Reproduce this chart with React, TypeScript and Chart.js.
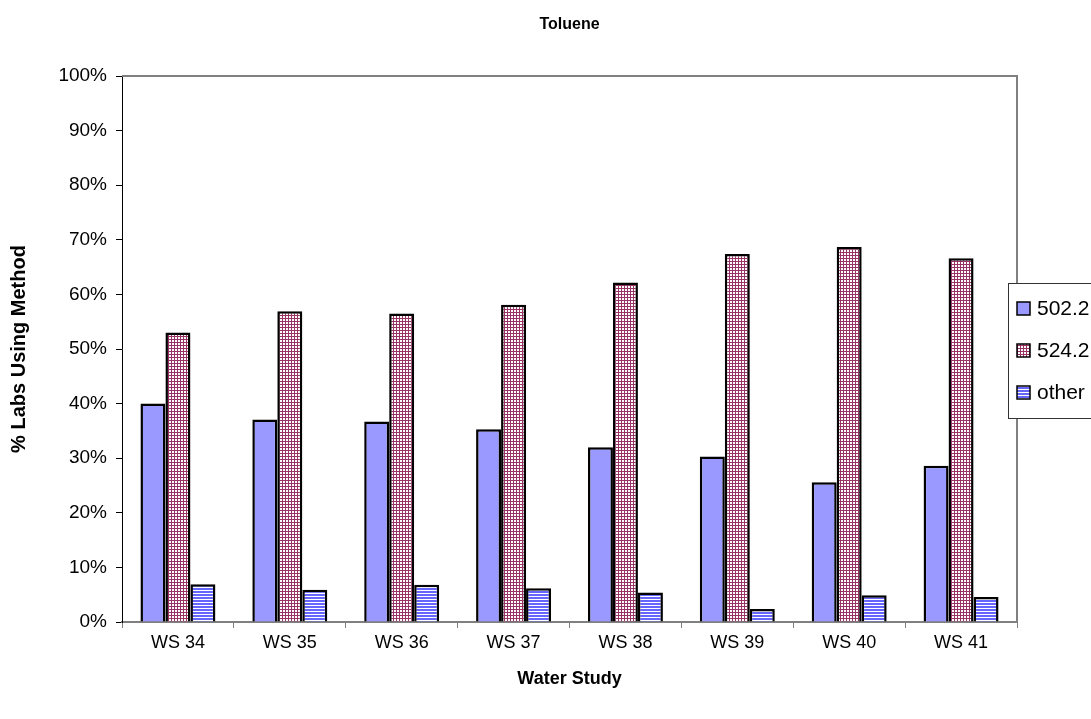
import React, { useEffect, useRef } from "react";
import { Chart, registerables } from "chart.js";

Chart.register(...registerables);

const chartTitle = "Toluene";
const xAxisTitle = "Water Study";
const yAxisTitle = "% Labs Using Method";
const categories = ["WS 34", "WS 35", "WS 36", "WS 37", "WS 38", "WS 39", "WS 40", "WS 41"];
const seriesNames = ["502.2", "524.2", "other"];
const values502 = [40.0, 37.1, 36.7, 35.3, 32.0, 30.3, 25.6, 28.6];
const values524 = [53.0, 56.9, 56.5, 58.1, 62.2, 67.4, 68.7, 66.6];
const valuesOther = [6.9, 5.9, 6.8, 6.2, 5.4, 2.4, 4.9, 4.6];
const yTickLabels = ["0%", "10%", "20%", "30%", "40%", "50%", "60%", "70%", "80%", "90%", "100%"];

const FONT = "Arial, 'Liberation Sans', sans-serif";

function makeCheckPattern(): CanvasPattern | string {
  const c = document.createElement("canvas");
  c.width = 3;
  c.height = 3;
  const g = c.getContext("2d");
  if (!g) return "#b36b8f";
  g.fillStyle = "#ffffff";
  g.fillRect(0, 0, 3, 3);
  g.fillStyle = "#993366";
  g.fillRect(0, 0, 3, 1);
  g.fillRect(0, 0, 1, 3);
  const p = g.createPattern(c, "repeat");
  return p || "#b36b8f";
}

function makeStripePattern(): CanvasPattern | string {
  const c = document.createElement("canvas");
  c.width = 3;
  c.height = 3;
  const g = c.getContext("2d");
  if (!g) return "#8080ff";
  g.fillStyle = "#6666ff";
  g.fillRect(0, 0, 3, 3);
  g.fillStyle = "#ffffff";
  g.fillRect(0, 2, 3, 1);
  const p = g.createPattern(c, "repeat");
  return p || "#8080ff";
}

export default function App() {
  const ref = useRef<HTMLCanvasElement | null>(null);

  useEffect(() => {
    if (!ref.current) return;
    const checkFill = makeCheckPattern();
    const stripeFill = makeStripePattern();
    const fills: any[] = ["#9999ff", checkFill, stripeFill];

    const plotFrame = {
      id: "plotFrame",
      afterDatasetsDraw(chart: any) {
        const { ctx, chartArea } = chart;
        ctx.save();
        ctx.strokeStyle = "#808080";
        ctx.lineWidth = 2;
        ctx.beginPath();
        ctx.moveTo(chartArea.left, chartArea.top);
        ctx.lineTo(chartArea.right, chartArea.top);
        ctx.lineTo(chartArea.right, chartArea.bottom);
        ctx.stroke();
        ctx.restore();
      },
    };

    const titleAndLegend = {
      id: "titleAndLegend",
      afterDraw(chart: any) {
        const { ctx, chartArea } = chart;
        ctx.save();
        // title
        ctx.fillStyle = "#000";
        ctx.font = `bold 16px ${FONT}`;
        ctx.textAlign = "center";
        ctx.textBaseline = "middle";
        ctx.fillText(chartTitle, (chartArea.left + chartArea.right) / 2, 25);
        // legend
        const midY = (chartArea.top + chartArea.bottom) / 2 + 1;
        const boxLeft = chartArea.right - 9;
        const boxTop = midY - 67;
        ctx.fillStyle = "#ffffff";
        ctx.fillRect(boxLeft, boxTop, 200, 135);
        ctx.strokeStyle = "#333";
        ctx.lineWidth = 1;
        ctx.strokeRect(boxLeft + 0.5, boxTop + 0.5, 200, 135);
        ctx.font = `21px ${FONT}`;
        ctx.textAlign = "left";
        seriesNames.forEach((name, i) => {
          const cy = midY - 42 + i * 42;
          const mx = boxLeft + 9;
          ctx.fillStyle = fills[i];
          ctx.fillRect(mx, cy - 6, 13, 13);
          ctx.strokeStyle = "#000";
          ctx.lineWidth = 1.5;
          ctx.strokeRect(mx, cy - 6, 13, 13);
          ctx.fillStyle = "#000";
          ctx.fillText(name, boxLeft + 29, cy + 1);
        });
        ctx.restore();
      },
    };

    const chart = new Chart(ref.current, {
      type: "bar",
      data: {
        labels: categories,
        datasets: [
          { label: seriesNames[0], data: values502, backgroundColor: fills[0] },
          { label: seriesNames[1], data: values524, backgroundColor: fills[1] },
          { label: seriesNames[2], data: valuesOther, backgroundColor: fills[2] },
        ].map((d) => ({
          ...d,
          borderColor: "#000",
          borderWidth: 2.5,
          categoryPercentage: 0.67,
          barPercentage: 1.0,
        })),
      },
      options: {
        animation: false,
        responsive: true,
        maintainAspectRatio: false,
        layout: { padding: { top: 76, right: 74, left: 0, bottom: 0 } },
        plugins: {
          legend: { display: false },
          title: { display: false },
          tooltip: { enabled: false },
        },
        scales: {
          x: {
            offset: true,
            grid: {
              display: true,
              drawOnChartArea: false,
              offset: true,
              tickLength: 6,
              color: "#808080",
            },
            border: { display: true, color: "#808080", width: 2 },
            ticks: {
              color: "#000",
              font: { family: FONT, size: 18 },
              padding: 4,
              maxRotation: 0,
            },
            title: {
              display: true,
              text: xAxisTitle,
              color: "#000",
              font: { family: FONT, size: 18, weight: "bold" },
              padding: { top: 0, bottom: 29 },
            },
            afterFit(scale: any) {
              scale.height = 97;
            },
          },
          y: {
            min: 0,
            max: 100,
            grid: {
              display: true,
              drawOnChartArea: false,
              tickLength: 6,
              color: "#000",
            },
            border: { display: true, color: "#000", width: 1 },
            ticks: {
              stepSize: 10,
              color: "#000",
              font: { family: FONT, size: 19 },
              padding: 9,
              callback: (_v: any, i: number) => yTickLabels[i],
            },
            title: {
              display: true,
              text: yAxisTitle,
              color: "#000",
              font: { family: FONT, size: 20, weight: "bold" },
              padding: { top: 7, bottom: 0 },
            },
            afterFit(scale: any) {
              scale.width = 122;
            },
          },
        },
      },
      plugins: [plotFrame, titleAndLegend],
    });
    return () => chart.destroy();
  }, []);

  return (
    <div style={{ position: "fixed", left: 0, top: 0, width: 1091, height: 719, background: "#fff" }}>
      <canvas ref={ref} />
    </div>
  );
}
